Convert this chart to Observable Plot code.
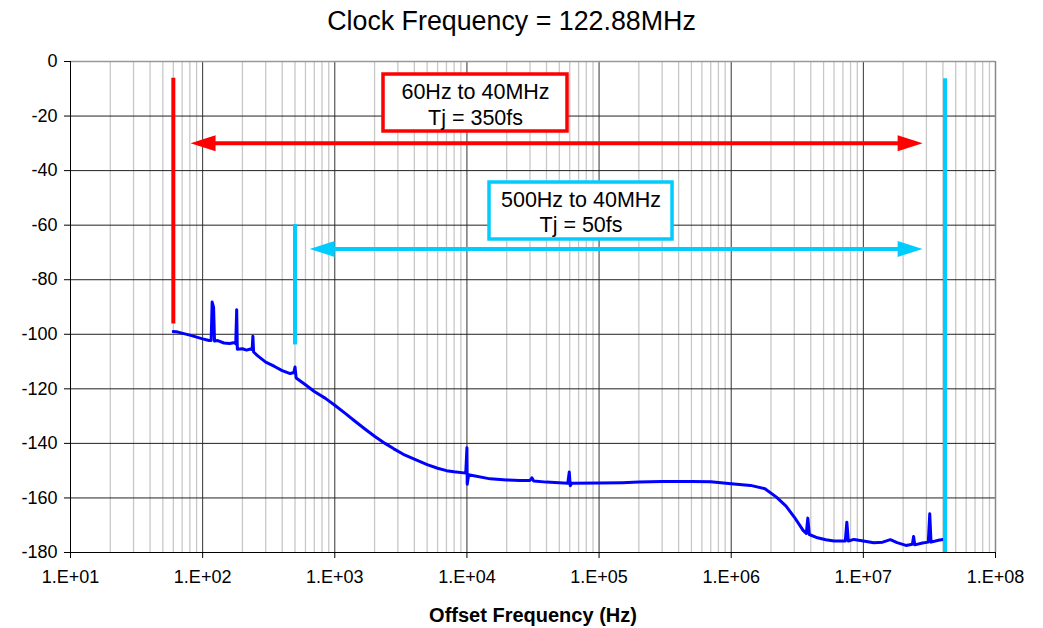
<!DOCTYPE html>
<html>
<head>
<meta charset="utf-8">
<script src="https://cdn.jsdelivr.net/npm/d3@7"></script>
<script src="https://cdn.jsdelivr.net/npm/@observablehq/plot@0.6"></script>
<style>
  html, body { margin: 0; padding: 0; background: #fff; }
  body { width: 1043px; height: 628px; overflow: hidden; font-family: "Liberation Sans", Arial, sans-serif; }
  #title { height: 45px; line-height: 42px; text-align: center; font-size: 26.8px; color: #000; padding-right: 20px; }
  svg { display: block; }
</style>
</head>
<body>
<div id="title">Clock Frequency = 122.88MHz</div>
<div id="chart"></div>
<script>
// ---- data ----
const freqHz = [
  60, 65, 80, 100, 112, 116, 118, 120, 121, 123, 130, 145, 160, 175, 178, 181, 183, 200, 215, 230,
  237, 240, 243, 260, 300, 350, 400, 460, 490, 500, 510, 600, 700, 850, 1000, 1200, 1400, 1700, 2000,
  2400, 2800, 3300, 4000, 5000, 6000, 7000, 8000, 9800, 10000, 10050, 10300, 15000, 20000, 25000, 30000, 31000, 32000,
  40000, 50000, 58000, 59500, 60500, 62000, 100000, 150000, 200000, 300000, 500000, 700000,
  1000000, 1400000, 1800000, 2200000, 2600000, 3000000, 3500000, 3700000, 3800000, 3900000,
  4500000, 5200000, 6000000, 7300000, 7500000, 7700000, 8500000, 10000000, 12000000, 14000000, 16000000,
  18000000, 21000000, 23500000, 24000000, 24500000, 28000000, 31000000, 31800000, 32500000,
  37000000, 40000000
];
const phaseNoiseDbc = [
  -99, -99.2, -100.3, -101.7, -102.3, -102.3, -88.2, -89.5, -90, -102.5, -102.3, -103.2, -103.4, -103, -103.5, -91, -105.5, -105.3, -105.8, -105.4,
  -105.6, -100.7, -106.5, -107.8, -110.2, -111.8, -113.3, -114.4, -114, -112, -116, -118.5, -121, -123.5, -126, -129, -131.6, -134.8, -137.4,
  -140, -142, -144, -145.8, -147.8, -149.1, -150, -150.4, -150.9, -141.6, -155, -151.5, -153, -153.4, -153.6, -153.6, -152.6, -153.8,
  -154.2, -154.4, -154.6, -150.5, -155.5, -154.6, -154.5, -154.4, -154.2, -154, -154, -154.1,
  -154.8, -155.4, -156.6, -159.7, -163, -167, -171.9, -173, -167.4, -173.4,
  -174.6, -175.3, -175.8, -175.8, -168.9, -175.8, -175.2, -175.8, -176.4, -176.2, -175.3,
  -176.4, -177.4, -177, -174.1, -177.2, -176.5, -176.2, -165.8, -176.2,
  -175.5, -175.2
];

const xMajorTicks = [1e1, 1e2, 1e3, 1e4, 1e5, 1e6, 1e7, 1e8];
const xTickLabels = ["1.E+01", "1.E+02", "1.E+03", "1.E+04", "1.E+05", "1.E+06", "1.E+07", "1.E+08"];
const yTicks = [0, -20, -40, -60, -80, -100, -120, -140, -160, -180];
const yTickLabels = ["0", "-20", "-40", "-60", "-80", "-100", "-120", "-140", "-160", "-180"];
const xMinorMultipliers = [2, 3, 4, 5, 6, 7, 8, 9];

// annotations
const redColor = "#ff0000";
const cyanColor = "#00ccff";
const bandLines = [ // vertical band markers: freq, top, bottom
  {f: 60, top: -6.1, bottom: -96.2, color: redColor},
  {f: 500, top: -59.8, bottom: -103.9, color: cyanColor},
  {f: 4.15e7, top: -6.3, bottom: -180, color: cyanColor}
];
const arrows = [ // horizontal double arrows
  {f1: 81, f2: 2.81e7, y: -30, color: redColor},
  {f1: 645, f2: 2.81e7, y: -68.7, color: cyanColor}
];
const labelBoxes = [
  {x1: 2337, x2: 57690, y1: -4.77, y2: -25.66, cx: 11614, cy: -15.4, text: "60Hz to 40MHz\nTj = 350fs", color: redColor},
  {x1: 14820, x2: 359600, y1: -44.36, y2: -65.25, cx: 73030, cy: -54.9, text: "500Hz to 40MHz\nTj = 50fs", color: cyanColor}
];

// ---- build ----
const noise = freqHz.map((f, i) => ({f, v: phaseNoiseDbc[i]}));
const minorTicks = [];
for (const d of xMajorTicks.slice(0, -1)) for (const m of xMinorMultipliers) minorTicks.push(d * m);
const xLabelOf = new Map(xMajorTicks.map((t, i) => [t, xTickLabels[i]]));
const yLabelOf = new Map(yTicks.map((t, i) => [t, yTickLabels[i]]));

const arrowHead = {
  draw(context) {
    context.moveTo(0, 0);
    context.lineTo(-25, -8);
    context.lineTo(-25, 8);
    context.closePath();
  }
};
const heads = arrows.flatMap(a => [
  {f: a.f1, y: a.y, color: a.color, rot: 180},
  {f: a.f2, y: a.y, color: a.color, rot: 0}
]);

const chart = Plot.plot({
  width: 1043,
  height: 583,
  marginTop: 16,
  marginRight: 48,
  marginBottom: 76,
  marginLeft: 70,
  style: {fontFamily: "'Liberation Sans', Arial, sans-serif", color: "#000", background: "#fff"},
  x: {type: "log", domain: [1e1, 1e8]},
  y: {domain: [-180, 0]},
  marks: [
    Plot.gridX({ticks: minorTicks, stroke: "#c8c8c8", strokeOpacity: 1, strokeWidth: 1.3}),
    Plot.gridX({ticks: xMajorTicks, stroke: "#333", strokeOpacity: 1, strokeWidth: 1}),
    Plot.gridY({ticks: yTicks, stroke: "#222", strokeOpacity: 1, strokeWidth: 1}),
    Plot.ruleY([0], {stroke: "#999", strokeWidth: 1.5}),
    Plot.ruleX([1e8], {stroke: "#888", strokeWidth: 1.5}),
    Plot.ruleX([1e1], {stroke: "#000", strokeWidth: 1}),
    Plot.ruleY([-180], {stroke: "#000", strokeWidth: 1}),
    Plot.axisX({ticks: xMajorTicks, tickFormat: d => xLabelOf.get(d), tickSize: 6, tickPadding: 12, fontSize: 18, label: null}),
    Plot.axisY({ticks: yTicks, tickFormat: d => yLabelOf.get(d), tickSize: 6, tickPadding: 7, fontSize: 18, label: null}),
    Plot.line(noise, {x: "f", y: "v", stroke: "#0000ff", strokeWidth: 3, curve: "linear"}),
    Plot.ruleX(bandLines, {x: "f", y1: "top", y2: "bottom", stroke: "color", strokeWidth: 4}),
    Plot.ruleY(arrows, {y: "y", x1: "f1", x2: "f2", stroke: "color", strokeWidth: 4, insetLeft: 8, insetRight: 8}),
    Plot.dot(heads, {x: "f", y: "y", symbol: arrowHead, fill: "color", stroke: "none", rotate: "rot"}),
    Plot.rect(labelBoxes, {x1: "x1", x2: "x2", y1: "y1", y2: "y2", fill: "#fff", stroke: "color", strokeWidth: 3.5}),
    Plot.text(labelBoxes, {x: "cx", y: "cy", text: "text", fontSize: 21.5, lineHeight: 1.2, fill: "#000"}),
    Plot.text(["Offset Frequency (Hz)"], {frameAnchor: "bottom", dy: 69, fontSize: 20, fontWeight: "bold", fill: "#000"})
  ]
});
document.getElementById("chart").appendChild(chart);
</script>
</body>
</html>
